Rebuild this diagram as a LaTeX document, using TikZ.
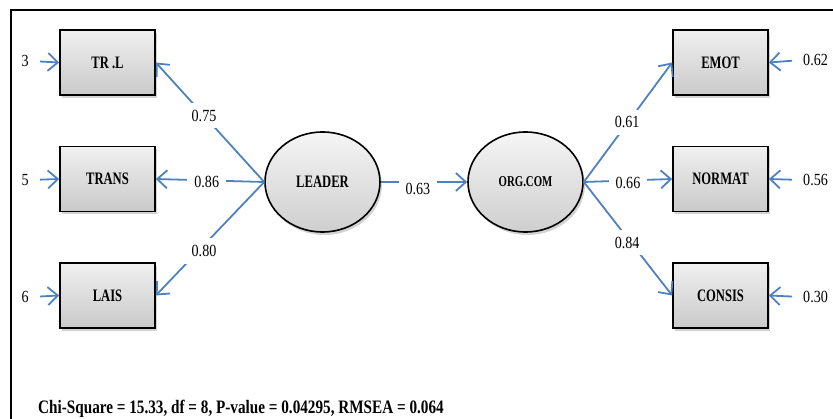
\documentclass[tikz,border=0pt]{standalone}
\usepackage{fontspec}
\setmainfont{Liberation Serif}
\newfontfamily\numfont[FakeStretch=0.83]{Liberation Serif}
\newfontfamily\labfont[FakeStretch=0.72]{Liberation Serif}
\newfontfamily\chifont[FakeStretch=0.8]{Liberation Serif}
\usetikzlibrary{arrows.meta,shapes.geometric,shadows}
\definecolor{arrowblue}{RGB}{79,129,189}
\tikzset{
  obs/.style={rectangle, draw=black, line width=1.6pt, minimum width=95pt, minimum height=65pt,
    top color=gray!12, bottom color=gray!42,
    drop shadow={shadow xshift=2pt, shadow yshift=-3pt, opacity=0.35},
    font=\labfont\bfseries\fontsize{17.5}{20}\selectfont},
  lat/.style={ellipse, draw=black, line width=1.6pt, minimum width=115pt, minimum height=100pt,
    top color=gray!8, bottom color=gray!38,
    drop shadow={shadow xshift=2pt, shadow yshift=-3pt, opacity=0.35},
    font=\labfont\bfseries\fontsize{17.5}{20}\selectfont},
  num/.style={font=\numfont\fontsize{17}{20}\selectfont, inner sep=1pt},
  wt/.style={num, fill=white, inner sep=7pt},
  arr/.style={draw=arrowblue, line width=1.8pt, -{Straight Barb[length=10pt,width=18pt,line width=1.8pt]}},
}
\begin{document}
\begin{tikzpicture}[x=1pt,y=-1pt]
\useasboundingbox (0,0) rectangle (833,419);
\draw[line width=2.2pt] (833,10) -- (11,10) -- (11,419);

% observed variables
\node[obs] (trl) at (107.5,62.5) {TR .L};
\node[obs] (trans) at (107.5,179) {TRANS};
\node[obs] (lais) at (107.5,295.5) {LAIS};
\node[obs] (emot) at (720.5,62.5) {EMOT};
\node[obs] (normat) at (720.5,179) {NORMAT};
\node[obs] (consis) at (720.5,295.5) {CONSIS};

% latent
\node[lat] (leader) at (322.5,182) {LEADER};
\node[lat, font=\labfont\bfseries\fontsize{15}{18}\selectfont] (org) at (525.5,182) {ORG.COM};

% error terms
\node[num, anchor=east] (e1) at (30,61) {3};
\node[num, anchor=east] (e2) at (30,180) {5};
\node[num, anchor=east] (e3) at (30,297) {6};
\node[num, anchor=west] (e4) at (802,60) {0.62};
\node[num, anchor=west] (e5) at (802,180) {0.56};
\node[num, anchor=west] (e6) at (802,297) {0.30};

\draw[arr, shorten <=10pt] (e1.east) -- (trl.west);
\draw[arr, shorten <=10pt] (e2.east) -- (trans.west);
\draw[arr, shorten <=10pt] (e3.east) -- (lais.west);
\draw[arr, shorten <=10pt] (e4.west) -- (emot.east);
\draw[arr, shorten <=10pt] (e5.west) -- (normat.east);
\draw[arr, shorten <=10pt] (e6.west) -- (consis.east);

% loadings
\draw[arr] (leader.west) -- node[wt, pos=0.555] {0.75} (trl.east);
\draw[arr] (leader.west) -- node[wt, pos=0.53, yshift=-2pt] {0.86} (trans.east);
\draw[arr] (leader.west) -- node[wt, pos=0.555, yshift=-6pt] {0.80} (lais.east);
\draw[arr] (org.east) -- node[wt, pos=0.49, yshift=1pt] {0.61} (emot.west);
\draw[arr] (org.east) -- node[wt, pos=0.5, yshift=-2pt] {0.66} (normat.west);
\draw[arr] (org.east) -- node[wt, pos=0.49, yshift=-5pt] {0.84} (consis.west);

% structural path
\draw[arr] (leader.east) -- node[wt, pos=0.43, yshift=-7pt] {0.63} (org.west);

\node[anchor=base west, font=\chifont\bfseries\fontsize{19}{22}\selectfont, inner sep=0pt] (fit) at (38,414)
  {Chi-Square = 15.33, df = 8, P-value = 0.04295, RMSEA = 0.064};
\end{tikzpicture}
\end{document}
